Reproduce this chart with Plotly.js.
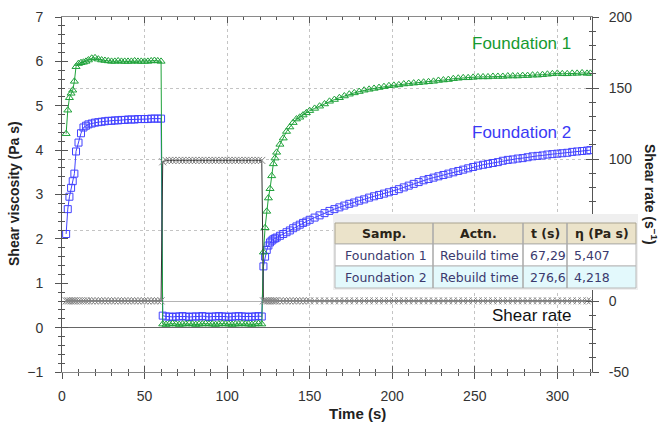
<!DOCTYPE html>
<html>
<head>
<meta charset="utf-8">
<script src="https://cdn.plot.ly/plotly-3.0.1.min.js"></script>
<style>html,body{margin:0;padding:0;background:#fff;}#chart{width:660px;height:425px;}</style>
</head>
<body>
<div id="chart"></div>
<script>
// ---- Data ----
// Phase 1: low shear (0-60 s)
const t1 = [2.5,3.5,4.5,5.5,6.5,7.5,8.5,10,11.5,13,14.5,16,18,20,22,24,26,28,30,32,34,36,38,40,42,44,46,48,50,52,54,56,58,60];
const green1 = [4.37,4.9,5.18,5.28,5.35,5.55,5.88,5.95,5.97,5.98,6.0,6.03,6.07,6.08,6.05,6.03,6.02,6.01,6.0,6.0,6.01,6.0,6.0,6.0,6.0,6.01,6.0,6.0,6.0,6.0,6.01,6.02,6.01,6.0];
const blue1 = [2.11,2.67,2.95,3.15,3.3,3.47,3.97,4.17,4.38,4.51,4.55,4.58,4.6,4.62,4.63,4.64,4.65,4.66,4.66,4.67,4.67,4.68,4.68,4.69,4.69,4.69,4.7,4.7,4.7,4.7,4.71,4.71,4.71,4.71];
const shear1 = [0.1,0.1,0.1,0.1,0.1,0.1,0.1,0.1,0.1,0.1,0.1,0.1,0.1,0.1,0.1,0.1,0.1,0.1,0.1,0.1,0.1,0.1,0.1,0.1,0.1,0.1,0.1,0.1,0.1,0.1,0.1,0.1,0.1,0.1];
// Phase 2: high shear (60-121 s)
const t2 = [61,63,65,67,69,71,73,75,77,79,81,83,85,87,89,91,93,95,97,99,101,103,105,107,109,111,113,115,117,119,121];
const green2 = [0.08,0.07,0.08,0.09,0.08,0.07,0.08,0.08,0.09,0.08,0.07,0.08,0.08,0.09,0.08,0.08,0.07,0.08,0.09,0.08,0.08,0.07,0.08,0.08,0.09,0.08,0.08,0.07,0.08,0.09,0.08];
const blue2 = [0.27,0.25,0.25,0.24,0.25,0.25,0.26,0.25,0.24,0.25,0.25,0.25,0.26,0.25,0.24,0.25,0.25,0.26,0.25,0.25,0.24,0.25,0.25,0.26,0.25,0.25,0.24,0.25,0.25,0.26,0.25];
const shear2 = [98,99,99,99,99,99,99,99,99,99,99,99,99,99,99,99,99,99,99,99,99,99,99,99,99,99,99,99,99,99,99];
// Phase 3: recovery (122-320 s)
const t3 = [122,123,124,125,126,127,128,129,130,132,134,136,138,140,142,144,146,148,150,153,156,159,162,165,168,171,174,177,180,183,186,189,192,195,198,201,204,207,210,213,216,219,222,225,228,231,234,237,240,243,246,249,252,255,258,261,264,267,270,273,276,279,282,285,288,291,294,297,300,303,306,309,312,315,318,320];
const green3 = [1.70,2.25,2.62,2.92,3.13,3.42,3.69,3.82,3.95,4.13,4.27,4.42,4.52,4.62,4.70,4.74,4.79,4.84,4.89,4.94,4.99,5.04,5.10,5.14,5.18,5.22,5.26,5.29,5.32,5.35,5.37,5.39,5.41,5.43,5.45,5.46,5.47,5.49,5.50,5.51,5.52,5.53,5.54,5.55,5.57,5.58,5.59,5.61,5.62,5.63,5.63,5.64,5.65,5.65,5.65,5.66,5.66,5.66,5.67,5.67,5.67,5.68,5.68,5.69,5.69,5.70,5.71,5.72,5.73,5.72,5.72,5.73,5.73,5.74,5.73,5.73];
const blue3 = [1.38,1.60,1.75,1.85,1.92,1.96,1.99,2.01,2.03,2.07,2.11,2.15,2.19,2.24,2.28,2.32,2.36,2.39,2.43,2.48,2.53,2.58,2.63,2.67,2.71,2.75,2.79,2.82,2.86,2.89,2.93,2.96,2.99,3.02,3.05,3.08,3.12,3.16,3.20,3.24,3.28,3.32,3.35,3.38,3.41,3.44,3.47,3.50,3.53,3.56,3.59,3.62,3.65,3.67,3.69,3.71,3.73,3.76,3.78,3.79,3.81,3.82,3.84,3.86,3.87,3.88,3.90,3.91,3.92,3.93,3.94,3.96,3.97,3.98,3.99,4.00];
const shear3 = [0.1,0.1,0.1,0.1,0.1,0.1,0.1,0.1,0.1,0.1,0.1,0.1,0.1,0.1,0.1,0.1,0.1,0.1,0.1,0.1,0.1,0.1,0.1,0.1,0.1,0.1,0.1,0.1,0.1,0.1,0.1,0.1,0.1,0.1,0.1,0.1,0.1,0.1,0.1,0.1,0.1,0.1,0.1,0.1,0.1,0.1,0.1,0.1,0.1,0.1,0.1,0.1,0.1,0.1,0.1,0.1,0.1,0.1,0.1,0.1,0.1,0.1,0.1,0.1,0.1,0.1,0.1,0.1,0.1,0.1,0.1,0.1,0.1,0.1,0.1,0.1];

const seriesNames = ['Foundation 1','Foundation 2','Shear rate'];
const tableHeader = ['Samp.','Actn.','t (s)','η (Pa s)'];
const tableRows = [
  ['Foundation 1','Rebuild time','67,29','5,407'],
  ['Foundation 2','Rebuild time','276,6','4,218']
];
// right-axis ticks; the "50" label sits behind the results table in the reference
const y2TickVals = [-50, 0, 100, 150, 200];
const y2TickText = ['-50', '0', '100', '150', '200'];
const xTitle = 'Time (s)';
const yTitle = 'Shear viscosity (Pa s)';
const y2Title = 'Shear rate (s<sup>−1</sup>)';

// ---- Styling ----
const GREEN = '#1fa23a', BLUE = '#4343ff', GRAY = '#858585';
const FONT = 'Liberation Sans, Arial, sans-serif';
const TFONT = 'DejaVu Sans, Verdana, sans-serif';
const L = 62, R = 592, T = 17, B = 372;
const X = px => (px - L) / (R - L);
const Y = py => (B - py) / (B - T);

const tAll = t1.concat(t2, t3);
const traces = [
  {x: tAll, y: shear1.concat(shear2, shear3), yaxis: 'y2', name: seriesNames[2], mode: 'lines+markers',
   line: {color: '#333', width: 1},
   marker: {symbol: 'x-thin-open', size: 7, color: GRAY, line: {width: 1, color: GRAY}}},
  {x: tAll, y: blue1.concat(blue2, blue3), name: seriesNames[1], mode: 'lines+markers',
   line: {color: BLUE, width: 1},
   marker: {symbol: 'square-open', size: 7, color: BLUE, line: {width: 1, color: BLUE}}},
  {x: tAll, y: green1.concat(green2, green3), name: seriesNames[0], mode: 'lines+markers',
   line: {color: GREEN, width: 1},
   marker: {symbol: 'triangle-up-open', size: 7, color: GREEN, line: {width: 1, color: GREEN}}},
  {x: [0], y: [0], xaxis: 'x2', yaxis: 'y3', mode: 'markers', marker: {opacity: 0}, hoverinfo: 'skip', showlegend: false},
  {x: [0], y: [0], yaxis: 'y4', mode: 'markers', marker: {opacity: 0}, hoverinfo: 'skip', showlegend: false}
];

const tickfont = {family: FONT, size: 14, color: '#333'};
const AX = '#555';

const shapes = [];
const annotations = [];
// table
const colEdges = [335, 433, 523, 567, 636];
const rowEdges = [223, 244, 266, 288];
shapes.push({type: 'rect', xref: 'paper', yref: 'paper', x0: X(333), x1: X(638), y0: Y(214), y1: Y(290), fillcolor: '#efefef', line: {width: 0}, layer: 'above'});
shapes.push({type: 'rect', xref: 'paper', yref: 'paper', x0: X(colEdges[0]), x1: X(colEdges[4]), y0: Y(rowEdges[0]), y1: Y(rowEdges[1]), fillcolor: '#ebe3ca', line: {width: 1, color: '#a9a38f'}, layer: 'above'});
shapes.push({type: 'rect', xref: 'paper', yref: 'paper', x0: X(colEdges[0]), x1: X(colEdges[4]), y0: Y(rowEdges[1]), y1: Y(rowEdges[2]), fillcolor: '#ffffff', line: {width: 1, color: '#b8b8b8'}, layer: 'above'});
shapes.push({type: 'rect', xref: 'paper', yref: 'paper', x0: X(colEdges[0]), x1: X(colEdges[4]), y0: Y(rowEdges[2]), y1: Y(rowEdges[3]), fillcolor: '#e3f9fc', line: {width: 1, color: '#b8b8b8'}, layer: 'above'});
for (let i = 1; i < 4; i++) {
  shapes.push({type: 'line', xref: 'paper', yref: 'paper', x0: X(colEdges[i]), x1: X(colEdges[i]), y0: Y(rowEdges[0]), y1: Y(rowEdges[3]), line: {width: 1.5, color: '#a8a8a8'}, layer: 'above'});
}
tableHeader.forEach((h, i) => {
  annotations.push({xref: 'paper', yref: 'paper', x: X((colEdges[i] + colEdges[i + 1]) / 2), y: Y((rowEdges[0] + rowEdges[1]) / 2),
    text: '<b>' + h + '</b>', showarrow: false, xanchor: 'center', yanchor: 'middle', font: {family: TFONT, size: 12.5, color: '#2a2418'}});
});
tableRows.forEach((row, r) => {
  row.forEach((c, i) => {
    annotations.push({xref: 'paper', yref: 'paper', x: X(colEdges[i] + (i === 0 ? 8 : 5)), y: Y((rowEdges[r + 1] + rowEdges[r + 2]) / 2),
      text: c, showarrow: false, xanchor: 'left', yanchor: 'middle', font: {family: TFONT, size: 12.5, color: '#3a3a6e'}});
  });
});
// labels
annotations.push({xref: 'paper', yref: 'paper', x: X(521), y: Y(43), text: seriesNames[0], showarrow: false, xanchor: 'center', yanchor: 'middle', font: {family: FONT, size: 17, color: '#169a30'}});
annotations.push({xref: 'paper', yref: 'paper', x: X(521), y: Y(132), text: seriesNames[1], showarrow: false, xanchor: 'center', yanchor: 'middle', font: {family: FONT, size: 17, color: '#3a3af5'}});
annotations.push({xref: 'paper', yref: 'paper', x: X(531), y: Y(315), text: seriesNames[2], showarrow: false, xanchor: 'center', yanchor: 'middle', font: {family: FONT, size: 17, color: '#111'}});
// axis titles
annotations.push({xref: 'paper', yref: 'paper', x: X(14), y: Y(194), text: '<b>' + yTitle + '</b>', textangle: -90, showarrow: false, xanchor: 'center', yanchor: 'middle', font: {family: FONT, size: 14, color: '#222'}});
annotations.push({xref: 'paper', yref: 'paper', x: X(651), y: Y(194), text: '<b>' + y2Title + '</b>', textangle: 90, showarrow: false, xanchor: 'center', yanchor: 'middle', font: {family: FONT, size: 14, color: '#222'}});
annotations.push({xref: 'paper', yref: 'paper', x: X(357), y: Y(413), text: '<b>' + xTitle + '</b>', showarrow: false, xanchor: 'center', yanchor: 'middle', font: {family: FONT, size: 15, color: '#222'}});

const layout = {
  width: 660, height: 425,
  margin: {l: L, r: 660 - R, t: T, b: 425 - B, pad: 0},
  paper_bgcolor: '#fff', plot_bgcolor: '#fff',
  showlegend: false,
  xaxis: {range: [0, 321], tick0: 0, dtick: 50, ticks: 'outside', ticklen: 6, tickcolor: AX, tickwidth: 1,
    showline: true, linecolor: AX, linewidth: 1, showgrid: true, gridcolor: '#c4c4c4', griddash: 'dot', zeroline: false,
    minor: {dtick: 10, ticks: 'outside', ticklen: 3, tickcolor: AX, showgrid: false},
    tickfont: tickfont, ticklabelstandoff: 5},
  xaxis2: {overlaying: 'x', anchor: 'y', side: 'bottom', range: [0, 321], tick0: 0, dtick: 50, ticks: 'inside', ticklen: 6, tickcolor: AX,
    showline: true, linecolor: '#8a8a8a', mirror: 'ticks', showgrid: false, zeroline: false, showticklabels: false,
    minor: {dtick: 10, ticks: 'inside', ticklen: 3, tickcolor: AX, showgrid: false}},
  yaxis: {range: [-1, 7], tick0: 0, dtick: 1, ticks: 'outside', ticklen: 6, tickcolor: AX,
    showline: true, linecolor: AX, linewidth: 1, showgrid: false, zeroline: true, zerolinecolor: '#666', zerolinewidth: 1,
    minor: {dtick: 0.2, ticks: 'outside', ticklen: 3, tickcolor: AX, showgrid: false},
    tickfont: tickfont, ticklabelstandoff: 9},
  yaxis3: {overlaying: 'y', anchor: 'x', side: 'left', range: [-1, 7], tick0: 0, dtick: 1, ticks: 'inside', ticklen: 6, tickcolor: AX,
    showline: false, showgrid: false, zeroline: false, showticklabels: false,
    minor: {dtick: 0.2, ticks: 'inside', ticklen: 3, tickcolor: AX, showgrid: false}},
  yaxis2: {overlaying: 'y', anchor: 'x', side: 'right', range: [-50, 200], tickmode: 'array', tickvals: y2TickVals, ticktext: y2TickText,
    ticks: 'outside', ticklen: 6, tickcolor: AX,
    showline: true, linecolor: AX, linewidth: 1, showgrid: false,
    zeroline: true, zerolinecolor: '#b4b4b4', zerolinewidth: 1,
    minor: {tick0: 0, dtick: 10, ticks: 'outside', ticklen: 3, tickcolor: AX, showgrid: false},
    tickfont: tickfont, ticklabelstandoff: 7},
  yaxis4: {overlaying: 'y', anchor: 'x', side: 'right', range: [-50, 200], tick0: 0, dtick: 50, ticks: 'inside', ticklen: 6, tickcolor: AX,
    showline: false, showgrid: true, gridcolor: '#c4c4c4', griddash: 'dot', zeroline: false, showticklabels: false,
    minor: {dtick: 10, ticks: 'inside', ticklen: 3, tickcolor: AX, showgrid: false}},
  shapes: shapes,
  annotations: annotations
};

Plotly.newPlot('chart', traces, layout, {displayModeBar: false, staticPlot: true});
</script>
</body>
</html>
